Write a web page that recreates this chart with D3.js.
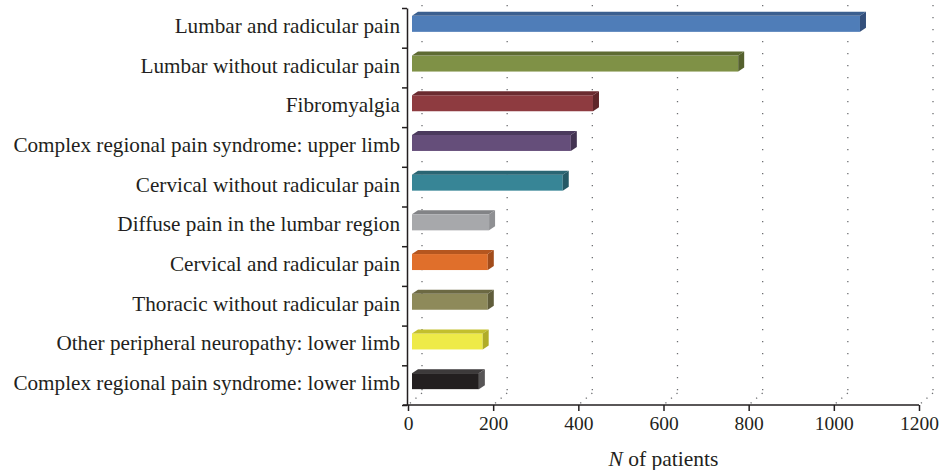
<!DOCTYPE html>
<html>
<head>
<meta charset="utf-8">
<style>
  body { margin: 0; background: #fff; }
  text { font-family: "Liberation Serif", "Times New Roman", serif; fill: #231f20; }
</style>
</head>
<body>
<script src="https://cdn.jsdelivr.net/npm/d3@7"></script>
<script>
  // data
  var categories = [
    "Lumbar and radicular pain",
    "Lumbar without radicular pain",
    "Fibromyalgia",
    "Complex regional pain syndrome: upper limb",
    "Cervical without radicular pain",
    "Diffuse pain in the lumbar region",
    "Cervical and radicular pain",
    "Thoracic without radicular pain",
    "Other peripheral neuropathy: lower limb",
    "Complex regional pain syndrome: lower limb"
  ];
  var patients = [1052, 766, 425, 373, 354, 181, 178, 178, 166, 157];
  var xTicks = [0, 200, 400, 600, 800, 1000, 1200];

  var frontColors = ["#4f7db8", "#7f9146", "#8e3b40", "#654e7a", "#378596",
                     "#a7a8ab", "#e06f2b", "#8e8a5a", "#eeea48", "#231f20"];
  var topColors   = ["#3b5f8f", "#5e6b33", "#6b2b30", "#4b3a5d", "#2a6573",
                     "#828386", "#b5561f", "#6c6943", "#c3bf2e", "#3d3a3b"];
  var sideColors  = ["#34507c", "#55612e", "#5f262a", "#433452", "#255966",
                     "#8f9093", "#a24c1b", "#605d3b", "#b0ac29", "#575556"];

  var width = 940, height = 470;
  var svg = d3.select("body").append("svg")
    .attr("width", width)
    .attr("height", height);

  var x = d3.scaleLinear().domain([0, 1200]).range([408, 919]);
  var y = d3.scaleBand().domain(categories).range([8, 405]).paddingInner(0).paddingOuter(0);
  var yEdge = d3.scaleLinear().domain([0, categories.length]).range([8, 405]);

  var depthX = 6, depthY = 4, wallX = 14;

  // back wall grid lines (dotted)
  var grid = svg.append("g").attr("class", "grid");
  grid.selectAll("line.v")
    .data(xTicks)
    .enter().append("line")
    .attr("class", "v")
    .attr("x1", function(d) { return x(d) + wallX; })
    .attr("x2", function(d) { return x(d) + wallX; })
    .attr("y1", 5)
    .attr("y2", 393)
    .attr("stroke", "#6d6e71")
    .attr("stroke-width", 1.3)
    .attr("stroke-dasharray", "1.3,10.7");
  grid.selectAll("line.f")
    .data(xTicks)
    .enter().append("line")
    .attr("class", "f")
    .attr("x1", function(d) { return x(d) + wallX; })
    .attr("x2", function(d) { return x(d); })
    .attr("y1", 393)
    .attr("y2", 405)
    .attr("stroke", "#6d6e71")
    .attr("stroke-width", 1.3)
    .attr("stroke-dasharray", "1.3,6");

  // bars, pseudo 3d: front, top and side faces
  var bars = svg.append("g").attr("class", "bars")
    .selectAll("g")
    .data(categories)
    .enter().append("g");

  function barEnd(i) { return x(patients[i]) + 4; }
  var barStart = x(0) + 4;
  function barMid(d) { return y(d) + y.bandwidth() / 2; }

  bars.append("rect")
    .attr("x", barStart)
    .attr("y", function(d) { return barMid(d) - 12; })
    .attr("width", function(d, i) { return barEnd(i) - barStart; })
    .attr("height", 16)
    .attr("fill", function(d, i) { return frontColors[i]; });

  bars.append("path")
    .attr("d", function(d, i) {
      var t = barMid(d) - 12, e = barEnd(i);
      return "M" + barStart + "," + t +
        "L" + (barStart + depthX) + "," + (t - depthY) +
        "L" + (e + depthX) + "," + (t - depthY) +
        "L" + e + "," + t + "Z";
    })
    .attr("fill", function(d, i) { return topColors[i]; });

  bars.append("path")
    .attr("d", function(d, i) {
      var t = barMid(d) - 12, e = barEnd(i);
      return "M" + e + "," + t +
        "L" + (e + depthX) + "," + (t - depthY) +
        "L" + (e + depthX) + "," + (t - depthY + 16) +
        "L" + e + "," + (t + 16) + "Z";
    })
    .attr("fill", function(d, i) { return sideColors[i]; });

  // category labels
  svg.append("g").selectAll("text")
    .data(categories)
    .enter().append("text")
    .attr("x", 400)
    .attr("y", function(d) { return barMid(d) + 5; })
    .attr("text-anchor", "end")
    .attr("font-size", 21.2)
    .text(function(d) { return d; });

  // y axis (ticks at category boundaries)
  var yAxis = d3.axisLeft(yEdge)
    .tickValues(d3.range(categories.length + 1))
    .tickFormat("")
    .tickSize(5)
    .tickSizeOuter(0);
  svg.append("g")
    .attr("transform", "translate(407,0)")
    .call(yAxis)
    .call(function(g) {
      g.selectAll("path, line").attr("stroke", "#231f20").attr("stroke-width", 1.5);
    });

  // x axis
  var xAxis = d3.axisBottom(x)
    .tickValues(xTicks)
    .tickFormat(d3.format("d"))
    .tickSize(6)
    .tickSizeOuter(0)
    .tickPadding(5);
  var gx = svg.append("g")
    .attr("transform", "translate(0,405)")
    .call(xAxis);
  gx.select(".domain").attr("d", "M403,0H919").attr("stroke", "#231f20").attr("stroke-width", 1.5);
  gx.selectAll(".tick line").attr("stroke", "#231f20").attr("stroke-width", 1.5);
  gx.selectAll(".tick text")
    .attr("font-family", "Liberation Serif, serif")
    .attr("font-size", 19.5)
    .attr("fill", "#231f20");

  // axis title
  var title = svg.append("text")
    .attr("x", (x(0) + x(1200)) / 2)
    .attr("y", 466)
    .attr("text-anchor", "middle")
    .attr("font-size", 21.5);
  title.append("tspan").attr("font-style", "italic").text("N");
  title.append("tspan").text(" of patients");
</script>
</body>
</html>
